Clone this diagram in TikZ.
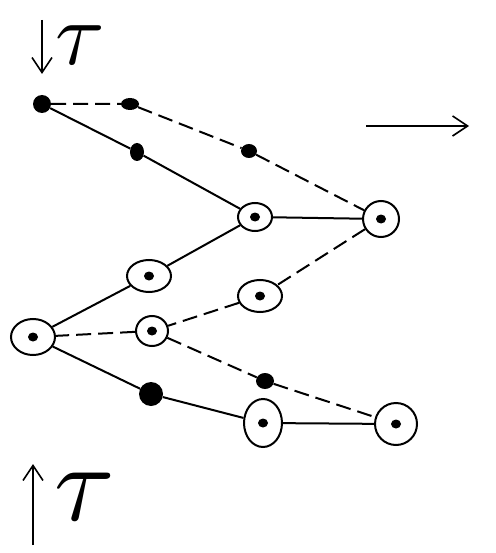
\documentclass[tikz,border=0pt]{standalone}
\usepackage{graphicx}
\usetikzlibrary{arrows.meta}
\usetikzlibrary{shapes.geometric}

\begin{document}
\begin{tikzpicture}[
				x=1pt, y=-1pt,
				dot/.style={ellipse, fill, inner sep=0pt},
				ring/.style={ellipse, draw, line width=2pt, inner sep=0pt,
					path picture={\fill (path picture bounding box.center) ellipse (5pt and 4.5pt);}},
				solidline/.style={line width=2pt},
				dashline/.style={line width=2pt, dash pattern=on 15pt off 7pt},
				arrow/.style={line width=2pt, -{Straight Barb[length=15pt, width=20pt, line width=1.6pt]}}
			]
			\useasboundingbox (0,0) rectangle (495,553);

			% Filled points
			\node[dot, minimum width=18pt, minimum height=18pt] (a1) at (42,104) {};
			\node[dot, minimum width=18pt, minimum height=12pt] (a2) at (130,104) {};
			\node[dot, minimum width=14pt, minimum height=18pt] (a3) at (137,152) {};
			\node[dot, minimum width=16pt, minimum height=14pt] (a4) at (249,151) {};
			\node[dot, minimum width=24pt, minimum height=24pt] (e1) at (151,394) {};
			\node[dot, minimum width=18pt, minimum height=16pt] (e2) at (265,381) {};

			% Circled points
			\node[ring, minimum width=34pt, minimum height=28pt] (b1) at (255,217) {};
			\node[ring, minimum width=36pt, minimum height=36pt] (b2) at (381,219) {};
			\node[ring, minimum width=44pt, minimum height=32pt] (c1) at (149,276) {};
			\node[ring, minimum width=44pt, minimum height=32pt] (c2) at (260,296) {};
			\node[ring, minimum width=44pt, minimum height=36pt] (d1) at (33,337) {};
			\node[ring, minimum width=32pt, minimum height=30pt] (d2) at (152,331) {};
			\node[ring, minimum width=38pt, minimum height=48pt] (f1) at (263,423) {};
			\node[ring, minimum width=42pt, minimum height=42pt] (f2) at (396,424) {};

			% Solid path
			\draw[solidline] (a1) -- (a3) -- (b1) -- (b2);
			\draw[solidline] (b1) -- (c1) -- (d1) -- (e1) -- (f1) -- (f2);

			% Dashed path
			\draw[dashline] (a1) -- (a2) -- (a4) -- (b2);
			\draw[dashline] (b2) -- (c2) -- (d2) -- (d1);
			\draw[dashline] (d2) -- (e2) -- (f2);

			% Direction arrows
			\coordinate (topstart) at (42,20);
			\coordinate (topend) at (42,74);
			\coordinate (botstart) at (33,545);
			\coordinate (botend) at (33,464);
			\coordinate (rstart) at (366,126);
			\coordinate (rend) at (469,126);
			\draw[arrow] (topstart) -- (topend);
			\draw[arrow] (botstart) -- (botend);
			\draw[arrow] (rstart) -- (rend);

			% Labels
			\node[inner sep=0pt] (tautop) at (80,45) {\scalebox{9}{$\tau$}};
			\node[inner sep=0pt] (taubot) at (85,497) {\scalebox{11}{$\tau$}};

		\end{tikzpicture}
\end{document}
